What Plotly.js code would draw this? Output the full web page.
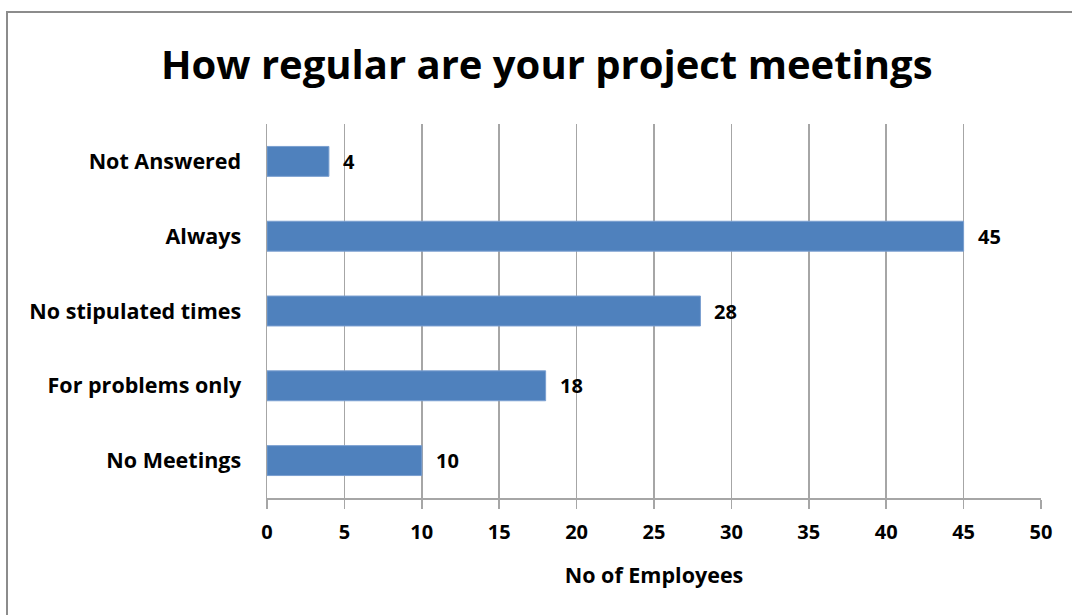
<!DOCTYPE html>
<html><head><meta charset="utf-8">
<script src="https://cdn.plot.ly/plotly-3.0.1.min.js"></script>
<style>
body{margin:0;background:#fff;}
#wrap{position:relative;width:1072px;height:615px;overflow:hidden;}
#frame{position:absolute;left:6px;top:11px;width:1200px;height:800px;border:2px solid #8c8c8c;box-sizing:border-box;pointer-events:none;}
#chart{position:absolute;left:0;top:0;width:1072px;height:615px;}
</style></head>
<body>
<div id="wrap"><div id="chart"></div><div id="frame"></div></div>
<script>
const categories = ["Not Answered","Always","No stipulated times","For problems only","No Meetings"];
const values = [4,45,28,18,10];
const tickValues = [0,5,10,15,20,25,30,35,40,45,50];

const font = "Open Sans, Lato, sans-serif";
const labelFont = {family:font, size:21.5, color:'#000', weight:700};
Plotly.newPlot('chart',[{
  type:'bar', orientation:'h',
  x: values, y: categories,
  marker:{color:'#4F81BD', line:{color:'#7a9fd0', width:1}},
  width:0.4,
  hoverinfo:'none'
}],{
  width:1072, height:615,
  margin:{l:267, r:31, t:124, b:117},
  paper_bgcolor:'rgba(0,0,0,0)', plot_bgcolor:'#fff',
  title:{text:'How regular are your project meetings', font:{family:font, size:40, color:'#000', weight:700}, x:0.51, xanchor:'center', y:0.895, yanchor:'middle'},
  annotations: values.map((v,i)=>({x:v, y:categories[i], xref:'x', yref:'y', text:String(v),
    showarrow:false, xanchor:'left', yanchor:'middle', xshift:12, font:{family:font, size:20, color:'#000', weight:700}})),
  xaxis:{range:[0,50], tickvals:tickValues, ticktext:tickValues.map(String),
    showgrid:true, gridcolor:'#a6a6a6', gridwidth:1.5,
    showline:true, linecolor:'#a6a6a6', linewidth:2,
    ticks:'outside', ticklen:9, tickcolor:'#a6a6a6', tickwidth:1.5,
    ticklabelstandoff:6,
    tickfont:{family:font, size:20, color:'#000', weight:700},
    zeroline:false, fixedrange:true,
    title:{text:'No of Employees', font:{family:font, size:21.5, color:'#000', weight:700}, standoff:24}},
  yaxis:{categoryorder:'array', categoryarray:categories, autorange:'reversed',
    showline:true, linecolor:'#a6a6a6', linewidth:1.5, ticks:'',
    ticklabelstandoff:20,
    tickfont:labelFont},
  showlegend:false, bargap:0.6
},{displayModeBar:false, staticPlot:true});
</script>
</body></html>
